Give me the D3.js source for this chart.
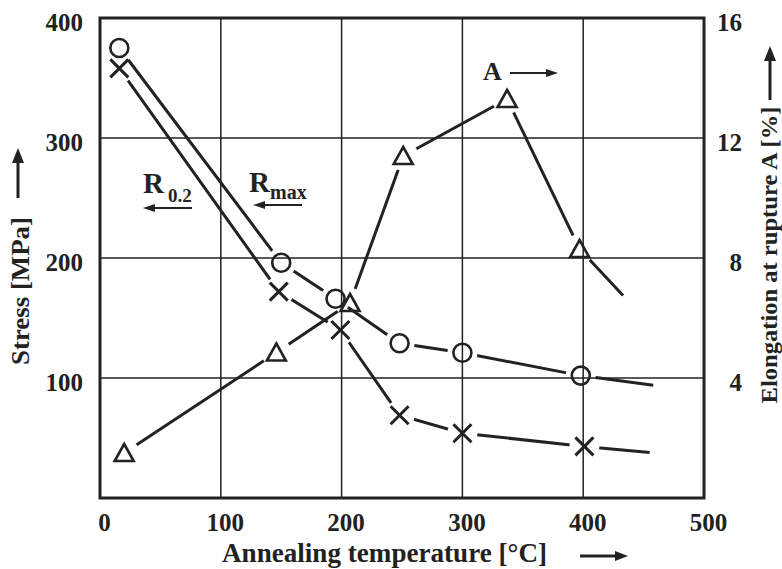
<!DOCTYPE html>
<html>
<head>
<meta charset="utf-8">
<script src="https://cdn.jsdelivr.net/npm/d3@7"></script>
<style>
  html, body { margin: 0; padding: 0; background: #fff; }
  svg { display: block; }
  text { font-family: "Liberation Serif", "Times New Roman", serif; font-weight: bold; fill: #222; }
</style>
</head>
<body>
<svg id="chart" width="782" height="569"></svg>
<script>
// ---- data ----
const xTicks = [0, 100, 200, 300, 400, 500];
const yLeftTicks = [100, 200, 300, 400];
const yRightTicks = [4, 8, 12, 16];

const rmaxTemp = [16, 150, 195, 248, 300, 398];
const rmaxVal  = [375, 196, 166, 129, 121, 102];
const rmaxTail = [458, 94];

const r02Temp = [16, 148, 199, 248, 300, 401];
const r02Val  = [358, 172, 140, 69, 54, 43];
const r02Tail = [455, 38];

const aTemp = [20, 146, 207, 251, 337, 397];
const aVal  = [1.5, 4.85, 6.5, 11.4, 13.3, 8.3];
const aTail = [433, 6.75];

const xTitle = "Annealing temperature [°C]";
const yLeftTitle = "Stress [MPa]";
const yRightTitle = "Elongation at rupture A  [%]";

// ---- layout ----
const svg = d3.select("#chart");
const ink = "#222";
const x = d3.scaleLinear([0, 500], [100, 704]);
const yL = d3.scaleLinear([0, 400], [498, 18]);
const yR = d3.scaleLinear([0, 16], [498, 18]);

// grid
const grid = svg.append("g").attr("stroke", ink).attr("stroke-width", 1.5);
grid.selectAll("line.v").data(xTicks.slice(1, -1)).join("line")
  .attr("x1", d => x(d)).attr("x2", d => x(d)).attr("y1", yL(400)).attr("y2", yL(0));
grid.selectAll("line.h").data(yLeftTicks.slice(0, -1)).join("line")
  .attr("x1", x(0)).attr("x2", x(500)).attr("y1", d => yL(d)).attr("y2", d => yL(d));
svg.append("rect").attr("x", x(0)).attr("y", yL(400))
  .attr("width", x(500) - x(0)).attr("height", yL(0) - yL(400))
  .attr("fill", "none").attr("stroke", ink).attr("stroke-width", 3);

// axes (labels only)
const axB = svg.append("g").attr("transform", `translate(0,${yL(0)})`)
  .call(d3.axisBottom(x).tickValues(xTicks).tickSize(0).tickPadding(15));
axB.selectAll("text").attr("font-size", 25).attr("dx", 4);
const axL = svg.append("g").attr("transform", `translate(${x(0)},0)`)
  .call(d3.axisLeft(yL).tickValues(yLeftTicks).tickSize(0).tickPadding(17));
axL.selectAll("text").attr("font-size", 25).attr("dy", "0.5em");
const axR = svg.append("g").attr("transform", `translate(${x(500)},0)`)
  .call(d3.axisRight(yR).tickValues(yRightTicks).tickSize(0).tickPadding(38));
axR.selectAll("text").attr("font-size", 25).attr("dy", "0.5em").attr("text-anchor", "end");
[axB, axL, axR].forEach(a => { a.select(".domain").remove(); a.selectAll("text").attr("fill", ink).style("font-family", "'Liberation Serif', serif").style("font-weight", "bold"); });

// titles
svg.append("text").attr("x", 222).attr("y", 562).attr("font-size", 28)
  .attr("textLength", 325).attr("lengthAdjust", "spacingAndGlyphs").text(xTitle);
svg.append("text").attr("transform", "translate(29,291) rotate(-90)").attr("text-anchor", "middle")
  .attr("font-size", 26).attr("textLength", 148).attr("lengthAdjust", "spacingAndGlyphs").text(yLeftTitle);
svg.append("text").attr("transform", "translate(777,255) rotate(-90)").attr("text-anchor", "middle")
  .attr("font-size", 24).attr("textLength", 297).attr("lengthAdjust", "spacingAndGlyphs").text(yRightTitle);

// arrow helper
function arrow(x1, y1, x2, y2, w, headL, headW) {
  const dx = x2 - x1, dy = y2 - y1, L = Math.hypot(dx, dy);
  const ux = dx / L, uy = dy / L, px = -uy, py = ux;
  const bx = x2 - ux * headL, by = y2 - uy * headL;
  svg.append("line").attr("x1", x1).attr("y1", y1).attr("x2", bx + ux).attr("y2", by + uy)
    .attr("stroke", ink).attr("stroke-width", w);
  svg.append("path").attr("d", `M${x2},${y2}L${bx + px * headW / 2},${by + py * headW / 2}L${bx - px * headW / 2},${by - py * headW / 2}Z`)
    .attr("fill", ink);
}
arrow(18, 198, 18, 148, 3, 15, 12);
arrow(770, 100, 770, 46, 3, 15, 12);
arrow(580, 556, 628, 556, 3, 13, 10);

// series labels
function subLabel(xp, yp, main, sub, subX, subY, subSize) {
  svg.append("text").attr("x", xp).attr("y", yp).attr("font-size", 29).text(main);
  svg.append("text").attr("x", subX).attr("y", subY).attr("font-size", subSize).text(sub);
}
subLabel(143, 193, "R", "0.2", 168, 202, 19);
arrow(192, 208, 143, 208, 2, 12, 8);
subLabel(249, 192, "R", "max", 270, 199, 20);
arrow(302, 205, 253, 205, 2, 12, 8);
svg.append("text").attr("x", 483).attr("y", 80).attr("font-size", 26).text("A");
arrow(510, 73, 558, 73, 2, 12, 8);

// series drawing
const gap = 15;
function series(id, temps, vals, tail, yS, marker) {
  const pts = temps.map((t, i) => [x(t), yS(vals[i])]);
  const all = pts.concat([[x(tail[0]), yS(tail[1])]]);
  const defs = svg.append("defs");
  const m = defs.append("mask").attr("id", id).attr("maskUnits", "userSpaceOnUse")
    .attr("x", 0).attr("y", 0).attr("width", 782).attr("height", 569);
  m.append("rect").attr("width", 782).attr("height", 569).attr("fill", "#fff");
  m.selectAll("circle").data(pts).join("circle")
    .attr("cx", d => d[0]).attr("cy", d => d[1]).attr("r", gap).attr("fill", "#000");
  svg.append("path").attr("d", d3.line()(all)).attr("fill", "none")
    .attr("stroke", ink).attr("stroke-width", 3).attr("mask", `url(#${id})`);
  const g = svg.append("g").attr("fill", "none").attr("stroke", ink);
  pts.forEach(p => marker(g, p));
}
const circ = (g, p) => g.append("circle").attr("cx", p[0]).attr("cy", p[1]).attr("r", 9).attr("stroke-width", 2.6);
const cross = (g, p) => g.append("path")
  .attr("d", `M${p[0] - 9},${p[1] - 9}L${p[0] + 9},${p[1] + 9}M${p[0] + 9},${p[1] - 9}L${p[0] - 9},${p[1] + 9}`)
  .attr("stroke-width", 3);
const tri = (g, p) => g.append("path")
  .attr("d", `M${p[0]},${p[1] - 9}L${p[0] + 9.5},${p[1] + 8}L${p[0] - 9.5},${p[1] + 8}Z`)
  .attr("stroke-width", 2.6).attr("stroke-linejoin", "miter");

series("mRmax", rmaxTemp, rmaxVal, rmaxTail, yL, circ);
series("mR02", r02Temp, r02Val, r02Tail, yL, cross);
series("mA", aTemp, aVal, aTail, yR, tri);
</script>
</body>
</html>
